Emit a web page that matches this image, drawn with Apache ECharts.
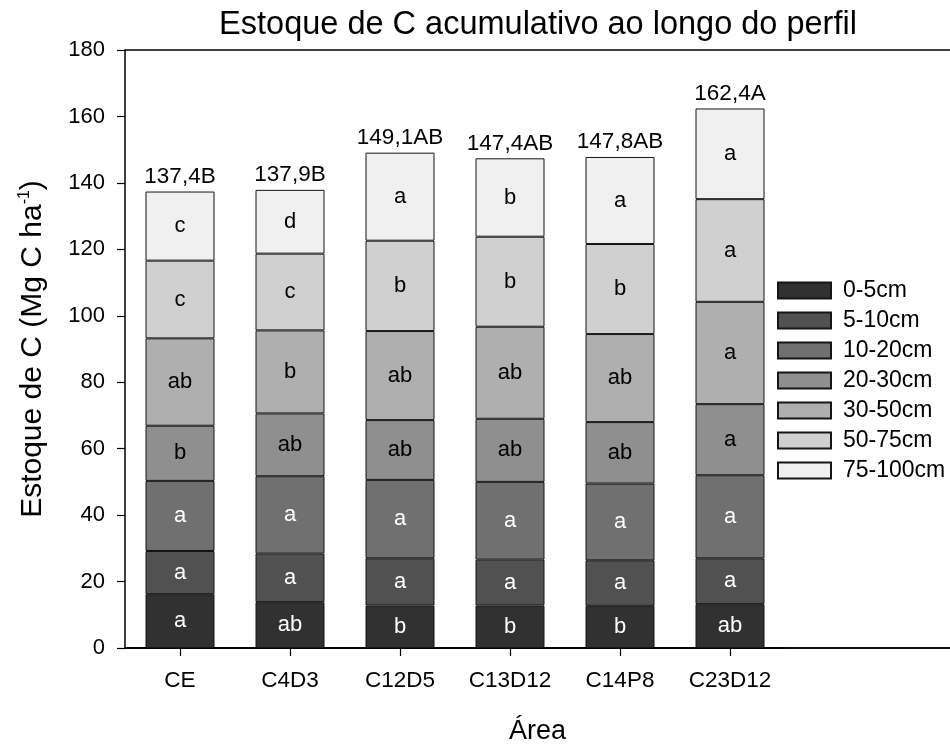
<!DOCTYPE html>
<html>
<head>
<meta charset="utf-8">
<script src="https://cdn.jsdelivr.net/npm/echarts@6/dist/echarts.min.js"></script>
<style>
html,body{margin:0;padding:0;background:#fff;}
#chart{width:950px;height:745px;}
</style>
</head>
<body>
<div id="chart"></div>
<script>
const categories = ['CE', 'C4D3', 'C12D5', 'C13D12', 'C14P8', 'C23D12'];
const layers = ['0-5cm', '5-10cm', '10-20cm', '20-30cm', '30-50cm', '50-75cm', '75-100cm'];
const v0_5    = [16.2, 13.8, 12.8, 12.8, 12.7, 13.2];
const v5_10   = [13.0, 14.6, 14.2, 13.8, 13.7, 13.8];
const v10_20  = [21.1, 23.3, 23.6, 23.4, 23.1, 25.0];
const v20_30  = [16.6, 18.9, 18.0, 19.0, 18.5, 21.4];
const v30_50  = [26.3, 25.0, 26.8, 27.7, 26.5, 30.8];
const v50_75  = [23.4, 23.1, 27.2, 27.1, 27.1, 30.9];
const v75_100 = [20.8, 19.2, 26.5, 23.6, 26.2, 27.3];
const l0_5    = ['a', 'ab', 'b', 'b', 'b', 'ab'];
const l5_10   = ['a', 'a', 'a', 'a', 'a', 'a'];
const l10_20  = ['a', 'a', 'a', 'a', 'a', 'a'];
const l20_30  = ['b', 'ab', 'ab', 'ab', 'ab', 'a'];
const l30_50  = ['ab', 'b', 'ab', 'ab', 'ab', 'a'];
const l50_75  = ['c', 'c', 'b', 'b', 'b', 'a'];
const l75_100 = ['c', 'd', 'a', 'b', 'a', 'a'];
const totals = [137.4, 137.9, 149.1, 147.4, 147.8, 162.4];
const totalLabels = ['137,4B', '137,9B', '149,1AB', '147,4AB', '147,8AB', '162,4A'];
const yTicks = { min: 0, max: 180, interval: 20 };

const layerValues = [v0_5, v5_10, v10_20, v20_30, v30_50, v50_75, v75_100];
const layerLetters = [l0_5, l5_10, l10_20, l20_30, l30_50, l50_75, l75_100];
const layerColors = ['#313131', '#515151', '#707070', '#8f8f8f', '#afafaf', '#d0d0d0', '#f0f0f0'];
const labelColors = ['#fff', '#fff', '#fff', '#000', '#000', '#000', '#000'];

const FONT = '"Liberation Sans", Arial, sans-serif';
const chart = echarts.init(document.getElementById('chart'), null, { renderer: 'canvas' });

const series = layers.map((name, i) => ({
  name: name,
  type: 'bar',
  stack: 'total',
  xAxisIndex: 0,
  yAxisIndex: 0,
  barWidth: 69,
  data: layerValues[i],
  itemStyle: { color: layerColors[i], borderColor: '#151515', borderWidth: 1 },
  label: {
    show: true,
    position: 'inside',
    fontFamily: FONT,
    fontSize: 22,
    color: labelColors[i],
    formatter: p => layerLetters[i][p.dataIndex]
  },
  emphasis: { disabled: true },
  animation: false
}));

series.push({
  name: 'total',
  type: 'scatter',
  xAxisIndex: 0,
  yAxisIndex: 0,
  data: totals,
  symbolSize: 1,
  itemStyle: { color: 'rgba(0,0,0,0)', opacity: 1 },
  label: {
    show: true,
    position: 'top',
    distance: 3,
    fontFamily: FONT,
    fontSize: 22.5,
    color: '#000',
    opacity: 1,
    formatter: p => totalLabels[p.dataIndex]
  },
  emphasis: { disabled: true },
  animation: false
});

const axisLineStyle = { color: '#000', width: 1.5 };

chart.setOption({
  backgroundColor: '#fff',
  animation: false,
  textStyle: { fontFamily: FONT },
  title: {
    text: 'Estoque de C acumulativo ao longo do perfil',
    left: 533,
    top: 4,
    textAlign: 'center',
    textStyle: { fontFamily: FONT, fontSize: 32.5, fontWeight: 'normal', color: '#000' }
  },
  legend: {
    data: layers,
    orient: 'vertical',
    left: 772,
    top: 274,
    itemWidth: 53,
    itemHeight: 16,
    itemGap: 7,
    icon: 'rect',
    selectedMode: false,
    textStyle: { fontFamily: FONT, fontSize: 23, color: '#000', padding: [0, 0, 0, 7] }
  },
  grid: [
    { left: 125, top: 50, width: 660, height: 598, containLabel: false, outerBoundsMode: 'none' },
    { left: 125, top: 50, right: 0, bottom: 97, containLabel: false, outerBoundsMode: 'none' }
  ],
  xAxis: [
    {
      type: 'category',
      gridIndex: 0,
      data: categories,
      axisLine: { show: true, onZero: false, lineStyle: axisLineStyle },
      axisTick: { show: true, alignWithLabel: true, length: 8, lineStyle: { color: '#000', width: 1.2 } },
      axisLabel: { fontFamily: FONT, fontSize: 22.5, color: '#000', margin: 21 },
      splitLine: { show: false }
    },
    {
      type: 'value',
      gridIndex: 1,
      min: 0,
      max: 1,
      position: 'bottom',
      axisLine: { show: true, onZero: false, lineStyle: axisLineStyle },
      axisTick: { show: false },
      axisLabel: { show: false },
      splitLine: { show: false },
      name: 'Área',
      nameLocation: 'middle',
      nameGap: 70,
      nameTextStyle: { fontFamily: FONT, fontSize: 27, color: '#000' }
    }
  ],
  yAxis: [
    {
      type: 'value',
      gridIndex: 0,
      min: yTicks.min,
      max: yTicks.max,
      interval: yTicks.interval,
      axisLine: { show: true, onZero: false, lineStyle: axisLineStyle },
      axisTick: { show: true, length: 8, lineStyle: { color: '#000', width: 1.2 } },
      axisLabel: { fontFamily: FONT, fontSize: 22, color: '#000', margin: 20 },
      splitLine: { show: false },
      name: '{a|Estoque de C (Mg C ha}{s|-1}{a|)}',
      nameLocation: 'middle',
      nameGap: 76,
      nameRotate: 90,
      nameTextStyle: {
        fontFamily: FONT,
        color: '#000',
        rich: {
          a: { fontFamily: FONT, fontSize: 30, color: '#000', lineHeight: 32 },
          s: { fontFamily: FONT, fontSize: 16, color: '#000', lineHeight: 32, verticalAlign: 'top' }
        }
      }
    },
    {
      type: 'value',
      gridIndex: 1,
      min: 0,
      max: 1,
      interval: 1,
      axisLine: { show: false },
      axisTick: { show: false },
      axisLabel: { show: false },
      splitLine: { show: true, lineStyle: { color: '#000', width: 1.5 } }
    }
  ],
  series: series
});
</script>
</body>
</html>
